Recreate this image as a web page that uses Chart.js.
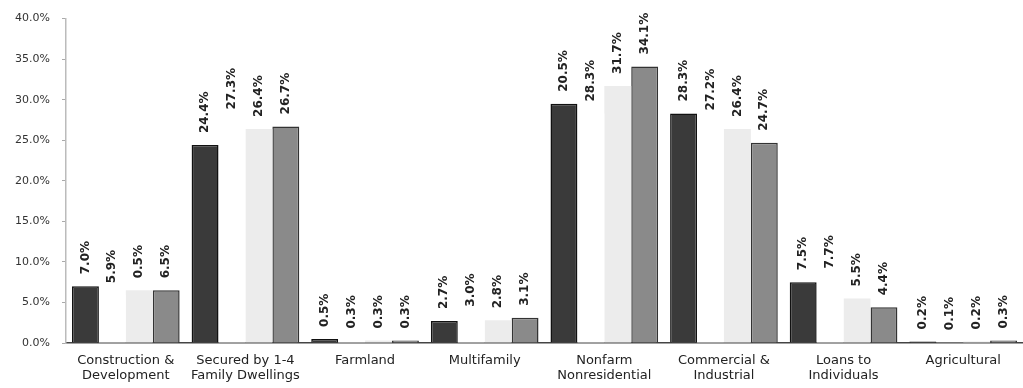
<!DOCTYPE html>
<html lang="en">
<head>
    <title>Loan Mix by Category</title>
    <script src="https://cdn.jsdelivr.net/npm/chart.js"></script>
    <style>
        html, body { margin: 0; padding: 0; background: #fff; }
        #chartContainer { width: 1023px; height: 388px; }
    </style>
</head>
<body>
<div id="chartContainer">
    <canvas id="loanChart"></canvas>
</div>
<script>
// Categories (two-line labels)
const categories = [
    ['Construction &', 'Development'],
    ['Secured by 1-4', 'Family Dwellings'],
    ['Farmland'],
    ['Multifamily'],
    ['Nonfarm', 'Nonresidential'],
    ['Commercial &', 'Industrial'],
    ['Loans to', 'Individuals'],
    ['Agricultural']
];

// Series values (%)
const series1 = [7.0, 24.4, 0.5, 2.7, 29.5, 28.3, 7.5, 0.2];
const series2 = [5.9, 27.3, 0.3, 3.0, 28.3, 27.2, 7.7, 0.1];
const series3 = [6.5, 26.4, 0.3, 2.8, 31.7, 26.4, 5.5, 0.2];
const series4 = [6.5, 26.7, 0.3, 3.1, 34.1, 24.7, 4.4, 0.3];

// Value labels as printed on the chart
const labels1 = ['7.0%', '24.4%', '0.5%', '2.7%', '20.5%', '28.3%', '7.5%', '0.2%'];
const labels2 = ['5.9%', '27.3%', '0.3%', '3.0%', '28.3%', '27.2%', '7.7%', '0.1%'];
const labels3 = ['0.5%', '26.4%', '0.3%', '2.8%', '31.7%', '26.4%', '5.5%', '0.2%'];
const labels4 = ['6.5%', '26.7%', '0.3%', '3.1%', '34.1%', '24.7%', '4.4%', '0.3%'];

// Y axis ticks
const yTicks = [0, 5, 10, 15, 20, 25, 30, 35, 40];

const valueLabels = [labels1, labels2, labels3, labels4];
const FONT = '"DejaVu Sans", Arial, sans-serif';

// Draw rotated value labels above each bar
const barLabelPlugin = {
    id: 'barLabels',
    afterDatasetsDraw(chart) {
        const ctx = chart.ctx;
        ctx.save();
        ctx.font = 'bold 12px ' + FONT;
        ctx.fillStyle = '#222';
        ctx.textAlign = 'left';
        ctx.textBaseline = 'middle';
        chart.data.datasets.forEach((ds, i) => {
            const meta = chart.getDatasetMeta(i);
            meta.data.forEach((bar, j) => {
                ctx.save();
                ctx.translate(bar.x, bar.y - 12);
                ctx.rotate(-Math.PI / 2);
                ctx.fillText(valueLabels[i][j], 0, 0);
                ctx.restore();
            });
        });
        ctx.restore();
    }
};

const ctx = document.getElementById('loanChart').getContext('2d');
new Chart(ctx, {
    type: 'bar',
    data: {
        labels: categories,
        datasets: [
            { label: 'Series 1', data: series1, backgroundColor: '#3a3a3a', borderColor: '#111', borderWidth: 1.5 },
            { label: 'Series 2', data: series2, backgroundColor: '#ffffff', borderWidth: 0 },
            { label: 'Series 3', data: series3, backgroundColor: '#ececec', borderWidth: 0 },
            { label: 'Series 4', data: series4, backgroundColor: '#8a8a8a', borderColor: '#333', borderWidth: 1.5 }
        ]
    },
    options: {
        responsive: true,
        maintainAspectRatio: false,
        animation: false,
        layout: { padding: { top: 17, right: 0, left: 0, bottom: 0 } },
        datasets: { bar: { categoryPercentage: 0.9, barPercentage: 1.0 } },
        plugins: {
            legend: { display: false },
            tooltip: { enabled: false }
        },
        scales: {
            x: {
                grid: { display: false },
                border: { color: '#444', width: 1.5 },
                ticks: {
                    color: '#222',
                    padding: 2,
                    maxRotation: 0,
                    autoSkip: false,
                    font: { family: FONT, size: 13, lineHeight: 1.15 }
                },
                afterFit(scale) { scale.height = 45; }
            },
            y: {
                min: 0,
                max: 40,
                afterBuildTicks(scale) { scale.ticks = yTicks.map(v => ({ value: v })); },
                grid: { display: true, drawOnChartArea: false, drawTicks: true, tickLength: 4, color: '#aaa' },
                border: { color: '#bbb', width: 1.5 },
                ticks: {
                    color: '#333',
                    padding: 12,
                    font: { family: FONT, size: 11 },
                    callback: v => v.toFixed(1) + '%'
                },
                afterFit(scale) { scale.width = 66; }
            }
        }
    },
    plugins: [barLabelPlugin]
});
</script>
</body>
</html>
